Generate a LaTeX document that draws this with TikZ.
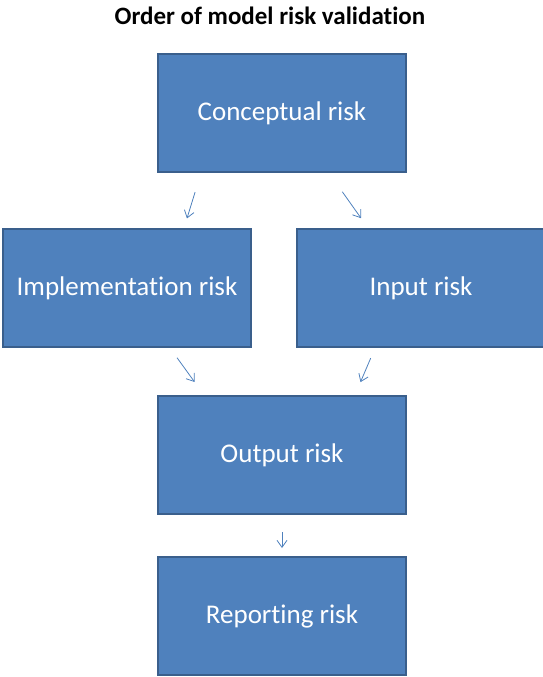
\documentclass[tikz,border=0pt]{standalone}
\usepackage{fontspec}
\setmainfont[Ligatures=NoCommon]{Carlito}
\usetikzlibrary{positioning,arrows.meta}

\begin{document}
\begin{tikzpicture}[x=1pt,y=1pt]
       \definecolor{boxblue}{HTML}{4F81BD}
       \definecolor{darkblue}{HTML}{3A5F8C}
       \newcommand{\colsep}[0]{44pt}
       \newcommand{\rowsep}[0]{55pt}
       \tikzstyle{riskbox}   = [rectangle, fill = boxblue, draw = darkblue, line width=2pt, minimum width=248pt, minimum height=118pt, text=white, font=\fontsize{27}{32}\selectfont]
       \tikzstyle{connector} = [draw = boxblue, line width=0.8pt, -{Straight Barb[length=7pt, width=10pt]}]

       \useasboundingbox (0,0) rectangle (543,-677);
       \node [anchor=base, font=\bfseries\fontsize{25}{30}\selectfont] (title) at (270,-25) {Order of model risk validation};

       \node [riskbox] (concept) at (282,-113) {Conceptual risk};
       \node [riskbox, below = \rowsep of concept, xshift=-155pt] (impl)   {Implementation risk};
       \node [riskbox, right = \colsep of impl]                   (input)  {Input risk};
       \node [riskbox, below = 47pt of impl, xshift=155pt]        (output) {Output risk};
       \node [riskbox, below = 41pt of output]                    (report) {Reporting risk};

       \draw [connector, shorten <=20pt, shorten >=10pt] ([xshift=-81pt]concept.south) -- ([xshift=57pt]impl.north);
       \draw [connector, shorten <=23pt, shorten >=12pt] ([xshift=47pt]concept.south)  -- ([xshift=-53pt]input.north);
       \draw [connector, shorten <=12pt, shorten >=16pt] ([xshift=43pt]impl.south)     -- ([xshift=-78pt]output.north);
       \draw [connector, shorten <=11pt, shorten >=14pt] ([xshift=-46pt]input.south)   -- ([xshift=73pt]output.north);
       \draw [connector, shorten <=17pt, shorten >=8pt]  (output)                       -- (report);
\end{tikzpicture}
\end{document}
